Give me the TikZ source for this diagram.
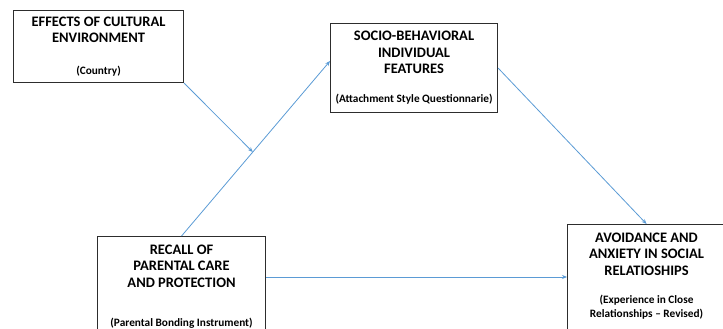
\documentclass[tikz,border=0pt]{standalone}
\usepackage{fontspec}
\setmainfont{Carlito}
\usetikzlibrary{arrows.meta}

\definecolor{linkblue}{RGB}{91,155,213}
\definecolor{boxgray}{RGB}{45,45,45}

\newcommand{\boxhead}{\fontsize{14.5}{16.5}\selectfont\bfseries}
\newcommand{\boxnote}{\fontsize{11.3}{16.5}\selectfont\bfseries}

\begin{document}
\begin{tikzpicture}[x=1pt, y=-1pt,
		box/.style={draw=boxgray, line width=1.1pt, align=center, anchor=north west, inner xsep=2pt, font=\boxhead},
		arr/.style={draw=linkblue, line width=0.8pt, -{Stealth[length=5pt, width=4pt]}}]
		\clip (0, 0) rectangle (723, 329);

		\node[box, minimum width=170pt, minimum height=72pt] (effects) at (13, 10)
		{EFFECTS OF CULTURAL\\ ENVIRONMENT\\[15.5pt] \boxnote (Country)};

		\node[box, minimum width=167pt, minimum height=89pt] (socio) at (330, 23)
		{SOCIO-BEHAVIORAL\\ INDIVIDUAL\\ FEATURES\\[12.5pt] \boxnote (Attachment Style Questionnarie)};

		\node[box, minimum width=168pt, inner ysep=8pt, text depth=20pt] (recall) at (97, 236)
		{RECALL OF\\ PARENTAL CARE\\ AND PROTECTION\\[22.5pt] \boxnote (Parental Bonding Instrument)};

		\node[box, minimum width=158pt, inner ysep=8pt, text depth=30pt] (avoid) at (567, 224)
		{AVOIDANCE AND\\ ANXIETY IN SOCIAL\\ RELATIOSHIPS\\[11.5pt] \boxnote (Experience in Close\\[-2.5pt] \boxnote Relationships -- Revised)};

		% links
		\draw[arr] (recall.north) -- coordinate[pos=0.48] (meet) ([yshift=7pt]socio.west);
		\draw[arr] (effects.south east) -- (meet);
		\draw[arr] (socio.east) -- (avoid.north);
		\coordinate (rc) at ([yshift=-41pt]recall.north east);
		\draw[arr] (rc) -- (rc -| avoid.west);
	\end{tikzpicture}
\end{document}
